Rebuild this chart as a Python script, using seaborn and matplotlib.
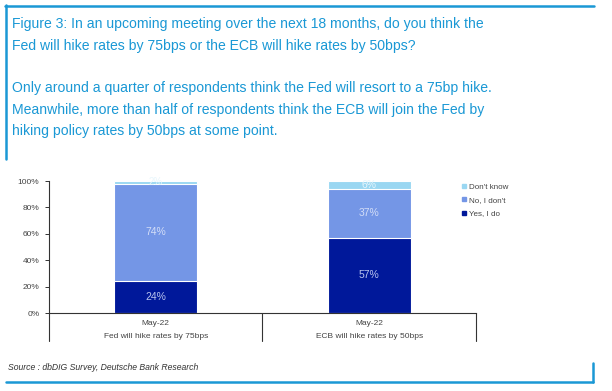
import matplotlib
matplotlib.use("Agg")
import matplotlib.pyplot as plt
import matplotlib.lines as mlines
import numpy as np
import pandas as pd
import seaborn as sns

# data
categories = ["Fed will hike rates by 75bps", "ECB will hike rates by 50bps"]
period = "May-22"
yes_i_do = [24, 57]
no_i_dont = [74, 37]
dont_know = [2, 6]

series_names = ["Don't know", "No, I don't", "Yes, I do"]
colors = {"Yes, I do": "#00189A", "No, I don't": "#7496E6", "Don't know": "#9AD7F2"}
label_colors = {"Yes, I do": "#B9C4EE", "No, I don't": "#D3DDF7", "Don't know": "#E8F6FC"}
frame_blue = "#1A98D5"

sns.set_theme(style="white")
plt.rcParams["font.family"] = ["Liberation Sans", "DejaVu Sans"]

fig = plt.figure(figsize=(6.12, 3.91), dpi=100)
W, H = 612, 391

# chart area (pixel geometry from the reference)
x0, x1, y_top, y_bot = 49, 476, 181, 313
ax = fig.add_axes([x0 / W, 1 - y_bot / H, (x1 - x0) / W, (y_bot - y_top) / H])

df = pd.DataFrame({
    "category": categories,
    "Yes, I do": yes_i_do,
    "No, I don't": no_i_dont,
    "Don't know": dont_know,
})
df["cum_yes"] = df["Yes, I do"]
df["cum_no"] = df["cum_yes"] + df["No, I don't"]
df["cum_dk"] = df["cum_no"] + df["Don't know"]

bar_w = 0.39
for col, name in [("cum_dk", "Don't know"), ("cum_no", "No, I don't"), ("cum_yes", "Yes, I do")]:
    sns.barplot(data=df, x="category", y=col, color=colors[name], width=bar_w,
                edgecolor="white", linewidth=0.8, saturation=1, ax=ax, errorbar=None)

# segment labels
for i, row in df.iterrows():
    bottom = 0
    for name in ["Yes, I do", "No, I don't", "Don't know"]:
        v = row[name]
        ax.text(i, bottom + v / 2, f"{v}%", ha="center", va="center",
                fontsize=7.5 if v > 5 else 7, color=label_colors[name])
        bottom += v

ax.set_xlim(-0.5, 1.5)
ax.set_ylim(0, 100)
ax.set_yticks(range(0, 101, 20))
ax.set_yticklabels([f"{t}%" for t in range(0, 101, 20)], fontsize=6, color="#444444")
ax.set_xticks([0, 1])
ax.set_xticklabels([period, period], fontsize=6, color="#444444")
ax.set_xlabel("")
ax.set_ylabel("")
ax.tick_params(axis="y", which="both", left=True, length=3, width=0.7, color="#333333", pad=4)
ax.tick_params(axis="x", length=0, pad=5)
for s in ["top", "right"]:
    ax.spines[s].set_visible(False)
for s in ["left", "bottom"]:
    ax.spines[s].set_color("#333333")
    ax.spines[s].set_linewidth(0.8)

# category group separators and second-level labels
trans = ax.get_xaxis_transform()
y_sep = -(341 - y_bot) / (y_bot - y_top)
for xs in [-0.5, 0.5, 1.5]:
    ax.plot([xs, xs], [0, y_sep], color="#333333", lw=0.8, transform=trans, clip_on=False)
for i, c in enumerate(categories):
    ax.text(i, -(337 - y_bot) / (y_bot - y_top), c, transform=trans, ha="center", va="center",
            fontsize=6, color="#444444")

# legend
handles = [mlines.Line2D([], [], marker="s", ls="", markersize=3, color=colors[n], label=n)
           for n in series_names]
fig.legend(handles=handles, loc="upper left", bbox_to_anchor=(453 / W, 1 - 176 / H),
           frameon=False, fontsize=5.8, handletextpad=0.1, labelspacing=0.7,
           handlelength=1.0, labelcolor="#444444")

# title text
title_lines = [
    "Figure 3: In an upcoming meeting over the next 18 months, do you think the",
    "Fed will hike rates by 75bps or the ECB will hike rates by 50bps?",
    "",
    "Only around a quarter of respondents think the Fed will resort to a 75bp hike.",
    "Meanwhile, more than half of respondents think the ECB will join the Fed by",
    "hiking policy rates by 50bps at some point.",
]
y_pos = [24, 46, 0, 88, 110, 131]
for line, yp in zip(title_lines, y_pos):
    if line:
        fig.text(12 / W, 1 - yp / H, line, ha="left", va="center", fontsize=10.1,
                 color=frame_blue)

fig.text(8 / W, 1 - 368 / H, "Source : dbDIG Survey, Deutsche Bank Research", ha="left", va="center",
         fontsize=6.2, style="italic", color="#333333")

# blue frame lines
fig.add_artist(mlines.Line2D([5 / W, 594 / W], [1 - 5.5 / H, 1 - 5.5 / H], color=frame_blue, lw=1.8))
fig.add_artist(mlines.Line2D([5.5 / W, 5.5 / W], [1 - 5 / H, 1 - 159 / H], color=frame_blue, lw=1.8))
fig.add_artist(mlines.Line2D([6 / W, 593 / W], [1 - 382 / H, 1 - 382 / H], color=frame_blue, lw=1.8))
fig.add_artist(mlines.Line2D([593 / W, 593 / W], [1 - 363 / H, 1 - 382 / H], color=frame_blue, lw=1.8))

fig.savefig("out.png", dpi=100)
